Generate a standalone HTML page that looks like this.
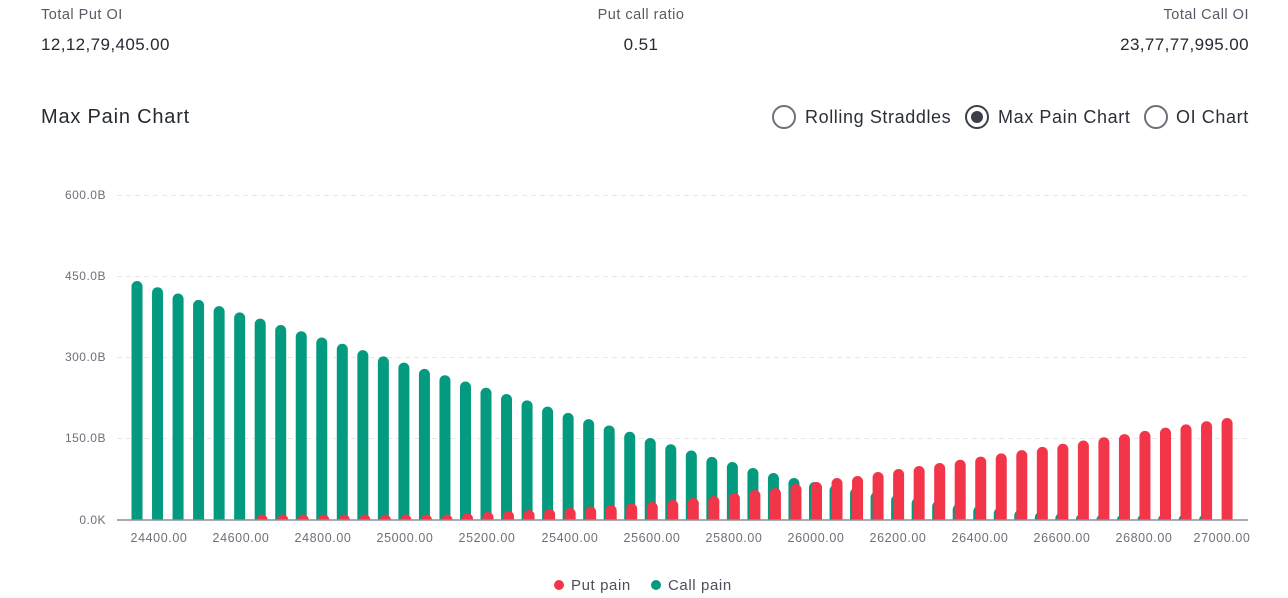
<!DOCTYPE html>
<html><head><meta charset="utf-8"><style>
body{margin:0;width:1288px;height:598px;background:#fff;font-family:"Liberation Sans",sans-serif;position:relative;overflow:hidden;color:#2b2f3a}
.a{position:absolute;white-space:nowrap}
.l{font-size:14.5px;color:#555b66;letter-spacing:0.5px}
.v{font-size:17px;color:#252a33;letter-spacing:0.4px}
.r{width:24px;height:24px;border:2px solid #6b7079;border-radius:50%;box-sizing:border-box;position:absolute}
.rt{font-size:18px;color:#2b2f3a;letter-spacing:0.6px}
</style></head><body>
<div class="a l" style="left:41px;top:7px">Total Put OI</div>
<div class="a v" style="left:41px;top:35px">12,12,79,405.00</div>
<div class="a l" style="left:541px;width:200px;text-align:center;top:7px">Put call ratio</div>
<div class="a v" style="left:541px;width:200px;text-align:center;top:35px">0.51</div>
<div class="a l" style="right:39px;top:7px">Total Call OI</div>
<div class="a v" style="right:39px;top:35px">23,77,77,995.00</div>
<div class="a" style="left:41px;top:106px;font-size:20px;color:#252a33;letter-spacing:0.8px">Max Pain Chart</div>
<div class="r" style="left:772px;top:105px"></div>
<div class="a rt" style="left:805px;top:107px">Rolling Straddles</div>
<div class="r" style="left:965px;top:105px;border-color:#3a3f4a"><div style="position:absolute;left:4px;top:4px;width:12px;height:12px;border-radius:50%;background:#3a3f4a"></div></div>
<div class="a rt" style="left:998px;top:107px">Max Pain Chart</div>
<div class="r" style="left:1144px;top:105px"></div>
<div class="a rt" style="left:1176px;top:107px">OI Chart</div>
<svg class="a" style="left:0;top:0" width="1288" height="598" id="s">
<g stroke="#e6e7ea" stroke-dasharray="5,4" stroke-width="1">
<line x1="117" x2="1248" y1="195.5" y2="195.5"/><line x1="117" x2="1248" y1="276.5" y2="276.5"/><line x1="117" x2="1248" y1="357.5" y2="357.5"/><line x1="117" x2="1248" y1="438.5" y2="438.5"/>
</g>
<g font-size="12" fill="#6b7079" text-anchor="end" font-family="Liberation Sans,sans-serif" letter-spacing="0.5">
<text x="106" y="199">600.0B</text><text x="106" y="280">450.0B</text><text x="106" y="361">300.0B</text><text x="106" y="442">150.0B</text><text x="106" y="524">0.0K</text>
</g>
<g id="bars"></g>
<line x1="117" x2="1248" y1="520" y2="520" stroke="#8a8e98" stroke-width="1.5"/>
<g font-size="12.5" fill="#6b7079" text-anchor="middle" font-family="Liberation Sans,sans-serif" letter-spacing="0.6">
<text x="159" y="542">24400.00</text><text x="241" y="542">24600.00</text><text x="323" y="542">24800.00</text><text x="405" y="542">25000.00</text><text x="487" y="542">25200.00</text><text x="570" y="542">25400.00</text><text x="652" y="542">25600.00</text><text x="734" y="542">25800.00</text><text x="816" y="542">26000.00</text><text x="898" y="542">26200.00</text><text x="980" y="542">26400.00</text><text x="1062" y="542">26600.00</text><text x="1144" y="542">26800.00</text><text x="1222" y="542">27000.00</text>
</g>
<circle cx="559" cy="585" r="5" fill="#f23548"/>
<text x="571" y="590" font-size="15" fill="#4a4f5a" font-family="Liberation Sans,sans-serif" letter-spacing="0.6">Put pain</text>
<circle cx="656" cy="585" r="5" fill="#049a7f"/>
<text x="668" y="590" font-size="15" fill="#4a4f5a" font-family="Liberation Sans,sans-serif" letter-spacing="0.6">Call pain</text>
</svg>
<script>
var g=[],r=[],i;
var gt=[63,58,52,47,42,38,35,32,28,25,22,19,16,14,12,10,8,7,6,5,4,3,2,1.5,1,0];
for(i=0;i<54;i++){g.push(i<=28?239-6.28*i:gt[i-28]);}
var rl={0:0,5:0,9:1.5,13:3,17:8,21:12,25:18,28:24,29:27,30:30,31:32,32:36,33:38,34:42,35:44,36:48,37:51,38:54,39:57,53:102};
var ks=Object.keys(rl).map(Number);
for(i=0;i<54;i++){for(var j=0;j<ks.length-1;j++){if(i>=ks[j]&&i<=ks[j+1]){var a=ks[j],b=ks[j+1];r.push(rl[a]+(rl[b]-rl[a])*(i-a)/(b-a));break;}}}
function bar(cx,h,c){if(h<=0.3)return'';var w=11,x=cx-w/2,y=520-h,rr=Math.min(5.5,h);
return '<path fill="'+c+'" d="M'+x+' 520V'+(y+rr)+'A'+rr+' '+rr+' 0 0 1 '+(x+w)+' '+(y+rr)+'V520Z"/>';}
var s='';for(i=0;i<54;i++){var cx=138+i*20.53;s+=bar(cx-1,g[i],'#049a7f');}
for(i=0;i<54;i++){var cx=138+i*20.53;s+=bar(cx+1,r[i],'#f23548');}
document.getElementById('bars').innerHTML=s;
</script>
</body></html>
